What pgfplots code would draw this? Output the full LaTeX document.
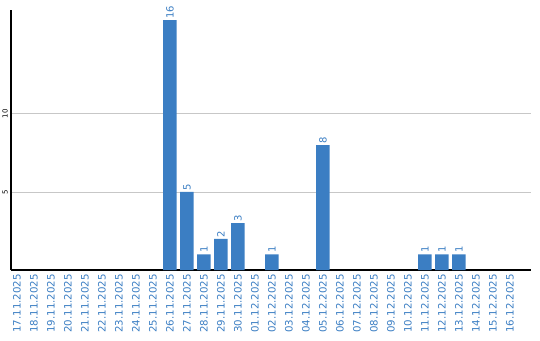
\documentclass[border=0pt]{standalone}
\usepackage{pgfplots}
\pgfplotsset{compat=1.18}
\usepackage{fontspec}
\setmainfont{DejaVu Sans}
\definecolor{barblue}{HTML}{3B7EC3}
\begin{document}
\begin{tikzpicture}
\begin{axis}[
  scale only axis,
  width=520pt, height=260pt,
  xmin=-0.35, xmax=30.24,
  ymin=0, ymax=16.65,
  axis x line*=bottom, axis y line*=left,
  axis line style={-, black, line width=1.2pt},
  xtick={0,...,29},
  xticklabels={17.11.2025,18.11.2025,19.11.2025,20.11.2025,21.11.2025,22.11.2025,23.11.2025,24.11.2025,25.11.2025,26.11.2025,27.11.2025,28.11.2025,29.11.2025,30.11.2025,01.12.2025,02.12.2025,03.12.2025,04.12.2025,05.12.2025,06.12.2025,07.12.2025,08.12.2025,09.12.2025,10.12.2025,11.12.2025,12.12.2025,13.12.2025,14.12.2025,15.12.2025,16.12.2025},
  xticklabel style={rotate=90, anchor=east, font=\fontsize{10.2}{11}\selectfont, text=barblue, inner sep=0pt},
  xticklabel shift=4pt,
  ytick={5,10},
  ymajorgrids,
  grid style={draw=black!22, line width=0.8pt},
  yticklabel style={rotate=90, anchor=south, font=\fontsize{7}{8}\selectfont, inner sep=0pt},
  yticklabel shift=3pt,
  /pgf/number format/assume math mode=true,
  major tick length=0pt,
  tick style={draw=none},
  ybar, bar width=0.8,
  clip=false,
  nodes near coords,
  nodes near coords style={rotate=90, anchor=west, font=\fontsize{10}{11}\selectfont, text=barblue, inner sep=1.5pt},
]
\addplot[fill=barblue, draw=none, bar shift=0pt] coordinates {
(9,16) (10,5) (11,1) (12,2) (13,3) (15,1) (18,8) (24,1) (25,1) (26,1)
};
\coordinate (sw) at (rel axis cs:0,0);
\coordinate (ne) at (rel axis cs:1,1);
\end{axis}
\pgfresetboundingbox
\path ([shift={(-11pt,-70pt)}]sw) rectangle ([shift={(9pt,10pt)}]ne);
\end{tikzpicture}
\end{document}
